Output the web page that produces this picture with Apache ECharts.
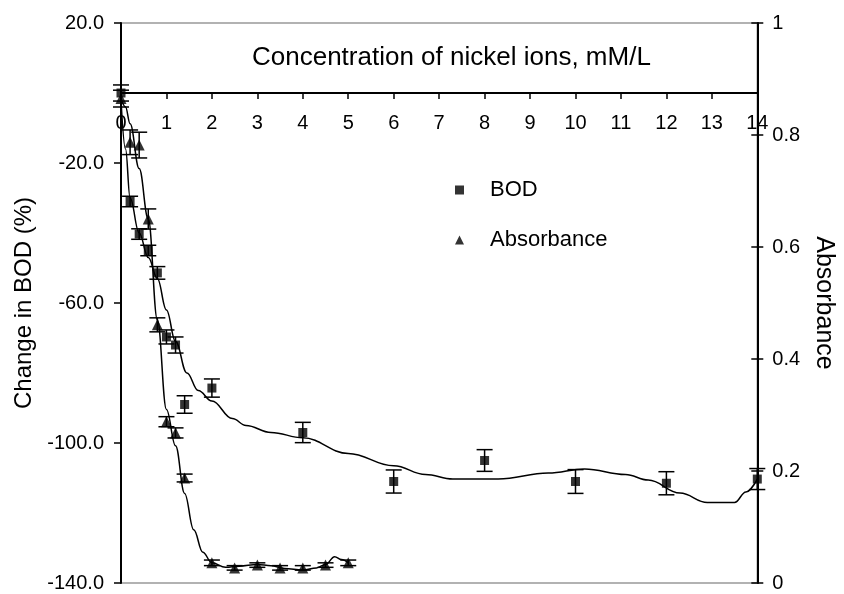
<!DOCTYPE html>
<html lang="en">
<head>
    <meta charset="UTF-8"/>
    <script src="https://cdn.jsdelivr.net/npm/echarts@6/dist/echarts.min.js"></script>
    <title>BOD and absorbance vs nickel ions</title>
    <style>
        html, body { margin: 0; padding: 0; background: #fff; }
    </style>
</head>
<body>
<div id="main" style="width:844px; height:594px;"></div>
<script type="text/javascript">
    // measured points (BOD on the left axis, absorbance on the right one)
    var concBOD = [0, 0.2, 0.4, 0.6, 0.8, 1.0, 1.2, 1.4, 2, 4, 6, 8, 10, 12, 14];
    var bodChange = [0, -31, -40.3, -45, -51.4, -69.7, -72, -89, -84.3, -97, -111, -105, -111, -111.5, -110.3];
    var bodErr = [2.3, 1.5, 1.5, 1.5, 1.8, 2, 2.3, 2.5, 2.6, 2.9, 3.3, 3.1, 3.4, 3.3, 3];

    var concAbs = [0, 0.2, 0.4, 0.6, 0.8, 1.0, 1.2, 1.4, 2, 2.5, 3, 3.5, 4, 4.5, 5];
    var absorbance = [0.865, 0.787, 0.782, 0.65, 0.461, 0.288, 0.268, 0.1875, 0.036, 0.027, 0.032, 0.027, 0.027, 0.032, 0.036];
    var absErr = [0.015, 0.022, 0.023, 0.018, 0.0125, 0.009, 0.009, 0.007, 0.005, 0.004, 0.004, 0.004, 0.004, 0.004, 0.005];

    // trend curves as drawn in the figure
    var bodCurveX = [0, 0.1, 0.2, 0.4, 0.6, 0.8, 1.0, 1.2, 1.45, 1.7, 2.0, 2.45, 2.75, 3.3, 4.0, 5.0, 6.0, 6.7, 7.3, 8.3, 9.4, 10.2, 11.1, 11.6, 12.3, 12.9, 13.5, 13.75, 14];
    var bodCurveY = [-2, -16, -30, -40, -47, -53, -62, -71, -80, -85, -88, -93, -95, -97, -98.5, -103, -106.5, -109, -110.3, -110.3, -108.6, -107.4, -109, -110.6, -114.3, -117, -117, -114, -110.3];
    var absCurveX = [0, 0.1, 0.2, 0.4, 0.6, 0.8, 1.0, 1.2, 1.4, 1.6, 1.8, 2.0, 2.3, 2.6, 3.0, 3.3, 3.6, 4.0, 4.3, 4.5, 4.7, 4.85, 5.0];
    var absCurveY = [0.865, 0.85, 0.82, 0.74, 0.65, 0.47, 0.31, 0.245, 0.16, 0.095, 0.055, 0.036, 0.028, 0.03, 0.033, 0.031, 0.026, 0.023, 0.027, 0.033, 0.047, 0.042, 0.036];

    var bodRange = {min: -140, max: 20, interval: 40};
    var absRange = {min: 0, max: 1, interval: 0.2};
    var xTicks = {min: 0, max: 14, interval: 1};
    var FONT = "'Liberation Sans', Arial, sans-serif";

    var gridTop = 23, gridBottom = 11, chartH = 594;
    // the concentration axis sits on the BOD = 0 line
    var plotH = chartH - gridTop - gridBottom;
    var zeroOffset = -bodRange.max / (bodRange.max - bodRange.min) * plotH;

    function pairs(xs, ys) {
        return xs.map(function (x, i) { return [x, ys[i]]; });
    }

    function errorSeries(xs, ys, errs, yIdx) {
        return {
            type: 'custom',
            yAxisIndex: yIdx,
            silent: true,
            z: 3,
            data: xs.map(function (x, i) { return [x, ys[i] - errs[i], ys[i] + errs[i]]; }),
            renderItem: function (params, api) {
                var lo = api.coord([api.value(0), api.value(1)]);
                var hi = api.coord([api.value(0), api.value(2)]);
                var w = 8;
                var st = {stroke: '#000', lineWidth: 1.5};
                return {
                    type: 'group',
                    children: [
                        {type: 'line', shape: {x1: lo[0], y1: lo[1], x2: hi[0], y2: hi[1]}, style: st},
                        {type: 'line', shape: {x1: lo[0] - w, y1: lo[1], x2: lo[0] + w, y2: lo[1]}, style: st},
                        {type: 'line', shape: {x1: hi[0] - w, y1: hi[1], x2: hi[0] + w, y2: hi[1]}, style: st}
                    ]
                };
            }
        };
    }

    var myChart = echarts.init(document.getElementById('main'));

    var option = {
        animation: false,
        textStyle: {fontFamily: FONT, color: '#000'},
        title: {
            text: 'Concentration of nickel ions, mM/L',
            left: 247,
            top: 40,
            textStyle: {fontFamily: FONT, fontSize: 26, fontWeight: 'normal', color: '#000'}
        },
        legend: {
            data: ['BOD', 'Absorbance'],
            orient: 'vertical',
            left: 450,
            top: 174,
            itemWidth: 9,
            itemHeight: 9,
            itemGap: 28,
            textStyle: {fontFamily: FONT, fontSize: 22, color: '#000', padding: [0, 0, 0, 21]}
        },
        grid: {
            left: 121, right: 83, top: gridTop, bottom: gridBottom,
            show: true,
            borderColor: '#999',
            borderWidth: 1.5
        },
        xAxis: {
            type: 'value',
            position: 'top',
            offset: zeroOffset,
            min: xTicks.min, max: xTicks.max, interval: xTicks.interval,
            axisLine: {show: true, onZero: false, lineStyle: {color: '#000', width: 2}},
            axisTick: {show: true, inside: true, length: 6, lineStyle: {color: '#000', width: 1.5}},
            axisLabel: {inside: true, fontFamily: FONT, fontSize: 20, color: '#000', margin: 20},
            splitLine: {show: false}
        },
        yAxis: [
            {
                type: 'value',
                position: 'left',
                min: bodRange.min, max: bodRange.max, interval: bodRange.interval,
                name: 'Change in BOD (%)',
                nameLocation: 'middle',
                nameGap: 78,
                nameTextStyle: {fontFamily: FONT, fontSize: 24, color: '#000'},
                axisLine: {show: true, lineStyle: {color: '#000', width: 2}},
                axisTick: {show: true, length: 7, lineStyle: {color: '#000', width: 1.5}},
                axisLabel: {fontFamily: FONT, fontSize: 20, color: '#000', margin: 17,
                    formatter: function (v) { return v.toFixed(1); }},
                splitLine: {show: false}
            },
            {
                type: 'value',
                position: 'right',
                min: absRange.min, max: absRange.max, interval: absRange.interval,
                name: 'Absorbance',
                nameLocation: 'middle',
                nameRotate: -90,
                nameGap: 53,
                nameTextStyle: {fontFamily: FONT, fontSize: 25, color: '#000'},
                axisLine: {show: true, lineStyle: {color: '#000', width: 2}},
                axisTick: {show: true, length: 6, lineStyle: {color: '#000', width: 1.5}},
                axisLabel: {fontFamily: FONT, fontSize: 20, color: '#000', margin: 15},
                splitLine: {show: false}
            },
            {
                // inner half of the crossing ticks on the right axis
                type: 'value',
                position: 'right',
                min: absRange.min, max: absRange.max, interval: absRange.interval,
                axisLine: {show: false},
                axisTick: {show: true, inside: true, length: 6, lineStyle: {color: '#000', width: 1.5}},
                axisLabel: {show: false},
                splitLine: {show: false}
            }
        ],
        series: [
            {
                name: 'BOD trend',
                type: 'line',
                yAxisIndex: 0,
                data: pairs(bodCurveX, bodCurveY),
                smooth: 0.4,
                smoothMonotone: 'x',
                showSymbol: false,
                silent: true,
                z: 2,
                lineStyle: {color: '#000', width: 1.5}
            },
            {
                name: 'Absorbance trend',
                type: 'line',
                yAxisIndex: 1,
                data: pairs(absCurveX, absCurveY),
                smooth: 0.4,
                smoothMonotone: 'x',
                showSymbol: false,
                silent: true,
                z: 2,
                lineStyle: {color: '#000', width: 1.5}
            },
            errorSeries(concBOD, bodChange, bodErr, 0),
            errorSeries(concAbs, absorbance, absErr, 1),
            {
                name: 'BOD',
                type: 'scatter',
                yAxisIndex: 0,
                symbol: 'rect',
                symbolSize: 9,
                z: 4,
                itemStyle: {color: '#000'},
                data: pairs(concBOD, bodChange)
            },
            {
                name: 'Absorbance',
                type: 'scatter',
                yAxisIndex: 1,
                symbol: 'triangle',
                symbolSize: 11,
                z: 4,
                itemStyle: {color: '#000'},
                data: pairs(concAbs, absorbance)
            }
        ]
    };

    myChart.setOption(option);
</script>
</body>
</html>
